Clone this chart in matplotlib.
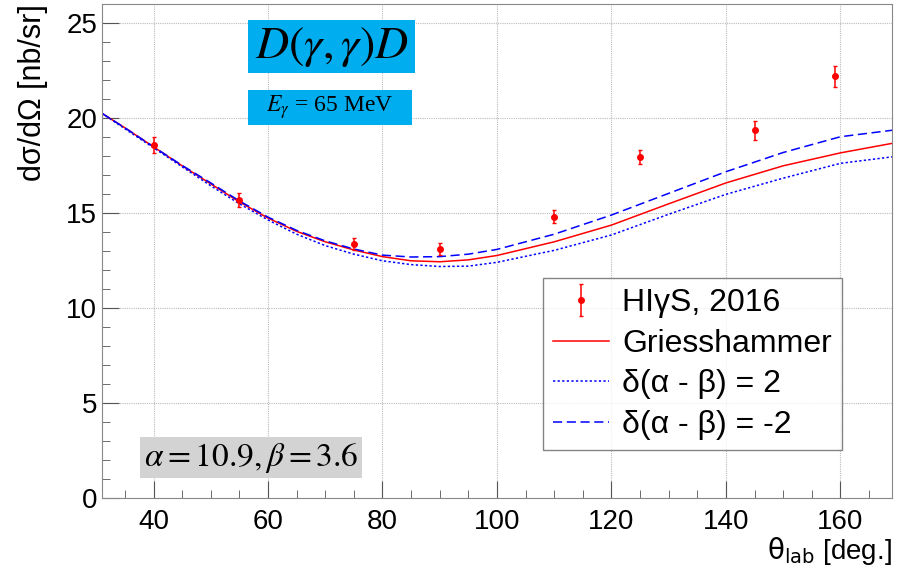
import numpy as np
import matplotlib
matplotlib.use("Agg")
import matplotlib.pyplot as plt
from matplotlib.patches import Rectangle
from matplotlib.ticker import MultipleLocator

plt.rcParams['font.family'] = ['Liberation Sans', 'DejaVu Sans']

# data points (HIgS 2016)
theta_data = [40, 55, 75, 90, 110, 125, 145, 159]
xs_data = [18.6, 15.7, 13.38, 13.12, 14.82, 17.95, 19.37, 22.2]
xs_err = [0.42, 0.38, 0.3, 0.3, 0.33, 0.37, 0.49, 0.55]

# theory curves
theta_th = [31, 35, 40, 45, 50, 55, 60, 65, 70, 75, 80, 85, 90, 95, 100,
            110, 120, 130, 140, 150, 160, 169]
griess = [20.26, 19.5, 18.5, 17.5, 16.55, 15.6, 14.75, 14.05, 13.5, 13.07,
          12.72, 12.5, 12.45, 12.55, 12.78, 13.5, 14.38, 15.5, 16.6, 17.5,
          18.18, 18.68]
dplus2 = [20.26, 19.45, 18.45, 17.45, 16.45, 15.5, 14.65, 13.9, 13.3, 12.85,
          12.5, 12.3, 12.2, 12.22, 12.42, 13.05, 13.86, 14.95, 16.0, 16.85,
          17.63, 17.97]
dminus2 = [20.26, 19.5, 18.5, 17.52, 16.6, 15.65, 14.8, 14.1, 13.55, 13.12,
           12.8, 12.7, 12.72, 12.85, 13.1, 13.9, 14.91, 16.05, 17.19, 18.2,
           19.03, 19.37]

fig = plt.figure(figsize=(8.97, 5.72), dpi=100)
ax = fig.add_axes([0.1137, 0.1288, 0.8807, 0.8637])

ax.plot(theta_th, griess, color='#ff0000', lw=1.1, label='Griesshammer')
ax.plot(theta_th, dplus2, color='#0000ff', lw=1.1, ls=(0, (1.5, 1.5)),
        label='δ(α - β) = 2')
ax.plot(theta_th, dminus2, color='#0000ff', lw=1.1, ls=(0, (6, 3)),
        label='δ(α - β) = -2')
ax.errorbar(theta_data, xs_data, yerr=xs_err, fmt='o', color='#ff0000',
            ms=4, elinewidth=1.1, capsize=1.5, label='HIγS, 2016', zorder=5)

ax.set_xlim(31, 169)
ax.set_ylim(0, 26)
ax.xaxis.set_major_locator(MultipleLocator(20))
ax.xaxis.set_minor_locator(MultipleLocator(5))
ax.yaxis.set_major_locator(MultipleLocator(5))
ax.yaxis.set_minor_locator(MultipleLocator(1))
ax.tick_params(which='both', direction='in', top=False, right=False,
               labelsize=20, color='#555555')
ax.tick_params(which='major', length=12)
ax.tick_params(which='minor', length=6)
ax.tick_params(axis='x', pad=8)
ax.grid(True, which='major', ls=(0, (1, 1)), color='#bbbbbb', lw=0.8)
for s in ax.spines.values():
    s.set_color('#888888')

ax.set_xlabel(r'$\mathrm{\theta_{lab}}$ [deg.]', fontsize=20, loc='right',
              labelpad=0)
ax.set_ylabel('dσ/dΩ [nb/sr]', fontsize=22, loc='top', labelpad=13)

handles, labels = ax.get_legend_handles_labels()
order = [3, 0, 1, 2]
leg = ax.legend([handles[i] for i in order], [labels[i] for i in order],
                loc='lower right', bbox_to_anchor=(0.9367, 0.0978), fontsize=23,
                frameon=True, fancybox=False, edgecolor='#666666',
                borderpad=0.32, labelspacing=0.33, handlelength=1.75,
                handletextpad=0.4, borderaxespad=0)
leg.get_frame().set_linewidth(1.0)

# annotation boxes
ax.add_patch(Rectangle((0.1848, 0.861), 0.2114, 0.107, transform=ax.transAxes,
                       fc='#00aeef', ec='none', zorder=6))
ax.text(0.2905, 0.914, r'$D(\gamma,\gamma)D$', transform=ax.transAxes,
        fontsize=33, math_fontfamily='stix', ha='center', va='center', zorder=7)
ax.add_patch(Rectangle((0.1848, 0.7555), 0.2076, 0.0711, transform=ax.transAxes,
                       fc='#00aeef', ec='none', zorder=6))
ax.text(0.2886, 0.791, r'$E_\gamma$ = 65 MeV', transform=ax.transAxes,
        fontsize=17, family='Liberation Serif', math_fontfamily='stix',
        ha='center', va='center', zorder=7)
ax.add_patch(Rectangle((0.0481, 0.0411), 0.281, 0.0831, transform=ax.transAxes,
                       fc='#d3d3d3', ec='none', zorder=6))
ax.text(0.1886, 0.0826, r'$\alpha = 10.9, \beta = 3.6$', transform=ax.transAxes,
        fontsize=24, math_fontfamily='stix', ha='center', va='center', zorder=7)

fig.savefig('out.png', dpi=100)
